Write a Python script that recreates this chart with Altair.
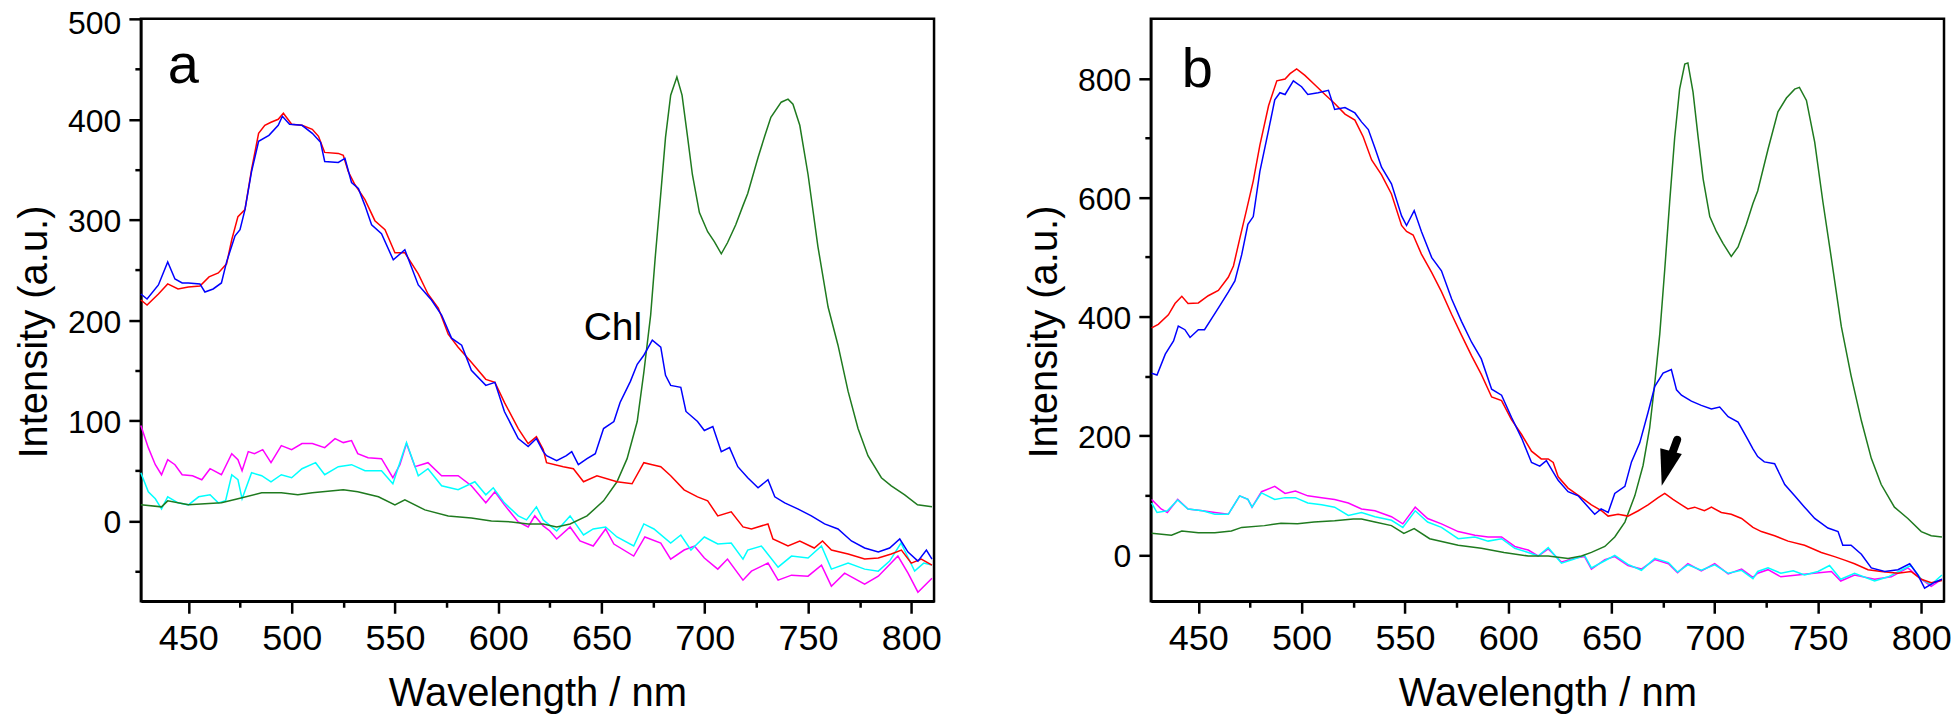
import altair as alt
import pandas as pd

# ---------------- data (wavelength nm, intensity a.u.) ----------------
A_RED = [(427,220),(430,215),(435.5,226),(440,236),(445,231),(450,233),(455.6,234),(460,243),(464.5,247),(468.5,256),(471,280),(474,303),(477.4,310),(480.6,350),(484,386),(487,394),(490,397),(493.5,400),(496,406),(500,395),(505,394),(510,390),(513,383),(516,367),(522.6,366),(525,364),(527.4,348),(530.6,335),(535.5,320),(540.3,299),(545.2,290),(550,267),(554.8,267),(561.3,246),(566,226),(571,212),(575.8,186),(580.6,173),(587,158),(594,141),(598.4,138),(603,118),(609.7,92),(614.5,77),(618.5,84),(621.8,71),(623.4,58),(631.5,54),(636.4,52),(641.3,39),(647.8,45),(657.5,39),(664.8,37),(670.5,58),(674.6,56),(678.7,54),(683.5,45),(690,31),(696.5,24),(701.4,20),(706.3,5),(712.8,9),(718.5,-6),(722.6,-8),(730.6,-3),(733,-18),(740.3,-25),(746,-20),(753,-27),(757,-20),(761.3,-29),(769.4,-33),(777.4,-38),(784,-37),(790.3,-33),(795.2,-29),(800,-42),(804.8,-38),(810,-44)]
A_BLUE = [(427,226),(430,221),(435.5,235),(440,258),(443.5,241),(447,237),(450,237),(455.6,236),(458,228),(462,231),(466,237),(468.5,258),(472.6,284),(475,290),(477.4,310),(480.6,348),(484,378),(489,384),(493.5,394),(495.5,403),(499,395),(505,394),(510,386),(514,377),(516,358),(522.6,357),(525.8,361),(529,337),(532.3,331),(535.5,314),(538.7,295),(543.5,286),(549.2,260),(554.8,270),(561.3,235),(567.7,220),(572.6,205),(577.4,182),(582.3,175),(587,150),(594,135),(598.4,138),(603,109),(609.7,82),(614.5,74),(618.5,82),(621.8,69),(623.4,65),(628.3,60),(633,65),(635.6,69),(638.8,56),(643,62),(647,67),(651,92),(656,99),(659,118),(664,139),(667.3,156),(670.5,165),(674.6,180),(678.7,173),(681,145),(683.5,135),(688.4,133),(690.9,109),(696.5,99),(699.8,90),(703.9,94),(708,69),(712,73),(716,54),(720.8,43),(725.8,33),(730.6,41),(733.9,24),(738.7,18),(745,12),(751.6,5),(758,-3),(764.5,-8),(771,-20),(777.4,-27),(784,-31),(789.5,-27),(794.4,-18),(798.4,-31),(803.2,-40),(807.3,-29),(810,-38)]
A_MAGENTA = [(427,95),(430.6,73),(434,56),(437,46),(440,61),(443.5,56),(447,46),(452,45),(456.5,41),(460.5,52),(466,46),(471,67),(474,61),(476,50),(479,69),(482,67),(486,71),(490,58),(495,75),(500,71),(505,77),(510,77),(516,73),(521,82),(525,78),(529,80),(532,67),(537,63),(543.5,62),(549,43),(552.4,56),(555.6,77),(559.7,54),(566,58),(572.6,45),(580.6,45),(587,35),(594,18),(598.4,29),(603,16),(609.7,-1),(614.5,-6),(617.7,5),(621.8,-5),(625,-10),(628.3,-18),(634.8,-6),(639.6,-20),(646,-25),(652,-8),(656,-23),(665.6,-35),(671,-16),(678.7,-22),(683.5,-38),(690,-29),(695,-25),(699.8,-37),(706.3,-48),(711,-38),(718.5,-59),(722.6,-50),(730.6,-42),(735.5,-59),(742,-54),(750,-55),(756.5,-44),(761.3,-65),(767.7,-52),(777.4,-63),(784,-55),(793.5,-35),(798.4,-52),(803.2,-71),(810,-57)]
A_CYAN = [(427,48),(430.6,29),(434,22),(437,12),(440,24),(445,18),(450,16),(455,24),(460.5,26),(464.5,18),(468,20),(471,46),(474,41),(476,22),(480.6,48),(485.5,45),(490,39),(495,46),(500,43),(505,52),(511.6,58),(516,46),(522.6,54),(529,56),(535.5,50),(543.5,50),(549,37),(555.6,78),(561.3,45),(566,52),(572.6,35),(580.6,31),(588.7,39),(594,26),(597.6,33),(603,18),(609.7,5),(613.7,1),(618.5,14),(621.8,1),(628.3,-10),(634.8,5),(641.3,-14),(646,-8),(652,-6),(657.5,-16),(665.6,-25),(670.5,-3),(675.4,-8),(683.5,-22),(688.4,-14),(693.3,-29),(699.8,-16),(706.3,-23),(712.8,-22),(718.5,-38),(720.8,-29),(727.4,-25),(735.5,-46),(742,-35),(750,-37),(756.5,-25),(761.3,-48),(769.4,-42),(777.4,-48),(784,-50),(789.5,-40),(795,-22),(801.6,-50),(806,-42),(810,-44)]
A_GREEN = [(427,16),(437,14),(440,20),(450,16),(466,18),(474,22),(485.5,28),(495,28),(503,26),(510,28),(525,31),(532,29),(542,24),(550,16),(554.8,21),(564.5,11),(575.8,5),(587,3),(596.7,0),(606.4,-1),(614.5,-3),(621.8,-3),(628.3,-6),(634.8,-3),(643,5),(651,20),(657.5,39),(662.4,62),(667.3,99),(670.5,148),(673.8,205),(676,262),(678.7,326),(681,382),(683.5,424),(686.5,442),(689,424),(691.7,382),(694,345),(697.4,307),(701.4,288),(704.7,278),(708,266),(711,277),(715,295),(718.5,314),(720.8,326),(725.8,362),(729,383),(732,402),(737,417),(740.3,420),(742.7,415),(746,394),(750,345),(754.8,273),(759.7,213),(764.5,175),(769.4,129),(774.2,92),(779,65),(785.5,43),(790.3,35),(796.8,26),(803,16),(810,14)]

B_RED = [(427.4,381),(430.6,387),(435.5,403),(438.7,422),(442,434),(445,422),(450,423),(454.8,435),(459.7,444),(464.5,466),(467,485),(470,530),(473.4,580),(476.6,628),(479.8,688),(484,754),(488,796),(492,799),(494.4,808),(497.6,816),(501.6,805),(506.5,789),(511.3,773),(516,758),(521,740),(525.8,730),(529.8,702),(533.9,663),(538.7,638),(543.5,606),(548.4,553),(550.8,543),(554,537),(558,505),(563,474),(567.7,442),(572.6,404),(577.4,369),(582.3,334),(587,303),(592,265),(596.8,259),(601.6,227),(606.5,202),(611.3,174),(616,161),(619.4,161),(621.8,155),(624.2,131),(629,112),(635.5,96),(640.3,84),(645.2,74),(648.4,65),(653.2,68),(658,65),(663,74),(667.7,84),(672.6,96),(675.8,103),(679.8,93),(683.9,84),(687,77),(690.3,80),(695,74),(698.4,80),(703.2,71),(708,68),(713,61),(718.5,46),(722.6,39),(729,32),(735.5,23),(743.5,16),(751.6,4),(758,-3),(762.9,-9),(767.7,-15),(774.2,-25),(780.6,-28),(788.7,-31),(795,-28),(800,-41),(804.8,-47),(810,-43)]
B_BLUE = [(427.4,305),(430,302),(434,337),(438,359),(440.3,384),(443.5,378),(446,365),(450,378),(453,378),(456.5,397),(460.5,419),(464.5,441),(467.7,460),(471,504),(474,555),(476.6,568),(479.8,644),(484,713),(487,764),(489.5,776),(492,773),(496,796),(500,786),(503,773),(508,776),(513,780),(516,748),(521,751),(525.8,742),(529,727),(532.3,714),(535.5,683),(538.7,651),(543.5,623),(548.4,569),(550.8,553),(554.5,578),(558,543),(563,499),(567.7,477),(572.6,430),(577.4,392),(582.3,357),(587,329),(592,278),(596.8,268),(601.6,231),(606.5,196),(611.3,155),(615.3,149),(618.5,158),(621.8,139),(624.2,125),(629,106),(633.9,99),(637,87),(641.9,68),(645,77),(648.4,71),(651.6,103),(656.5,115),(659.7,156),(663.7,188),(667.7,239),(671,283),(675,305),(679,311),(681.5,277),(683.9,268),(688.7,258),(693.5,251),(698.4,245),(702.4,248),(706.5,232),(711.3,223),(716,194),(718.5,178),(720.8,165),(724,156),(729,153),(733.9,118),(738.7,99),(743.5,80),(748.4,61),(754.8,45),(759.7,39),(762,16),(766,16),(771,1),(775.8,-22),(782.3,-28),(788.7,-25),(794.4,-15),(798.4,-34),(801.6,-56),(806.5,-46),(810,-41)]
B_MAGENTA = [(427.4,93),(432,77),(435,71),(440,93),(445,77),(452,74),(458,71),(464.5,68),(470,99),(474,93),(476,80),(480.6,106),(487,115),(492,103),(497,107),(503,99),(509.7,96),(516,93),(522.6,87),(529,77),(535.5,74),(543.5,64),(549,52),(555,80),(561,61),(567.7,52),(575.8,39),(583.9,33),(590.3,30),(596.8,30),(603.2,14),(609.7,8),(614.5,-2),(619.4,10),(625.8,-12),(632,-6),(637,-3),(640.3,-24),(646.8,-8),(651.6,-3),(658,-18),(664.5,-24),(671,-8),(677.6,-15),(682,-30),(687,-15),(693.5,-27),(700,-15),(706.5,-32),(713,-24),(718.5,-38),(720.8,-31),(725.8,-25),(732,-37),(740,-34),(748,-31),(756.5,-28),(761,-44),(767.7,-34),(777.4,-41),(785.5,-37),(793.5,-22),(800,-41),(804.8,-53),(810,-41)]
B_CYAN = [(427.4,87),(430,71),(435,74),(440,92),(445,77),(452,74),(458,68),(464.5,68),(470,99),(474,93),(476,80),(480.6,104),(487,93),(492,96),(497,96),(503,87),(509.7,84),(516,80),(522.6,66),(529,71),(535.5,64),(543.5,58),(549,46),(555,74),(561,55),(567.7,46),(575.8,27),(583.9,30),(590.3,23),(596.8,27),(603.2,11),(609.7,4),(614.5,-2),(619.4,12),(625.8,-14),(632,-7),(637,-1),(640.3,-22),(646.8,-10),(651.6,-1),(658,-16),(664.5,-26),(671,-6),(677.6,-13),(682,-29),(687,-17),(693.5,-26),(700,-17),(706.5,-31),(713,-26),(718.5,-40),(720.8,-28),(725.8,-22),(732,-31),(738,-27),(743.5,-34),(750,-28),(755.6,-18),(761,-41),(767.7,-31),(777.4,-44),(784,-37),(789,-28),(795,-18),(800,-41),(804.8,-50),(810,-34)]
B_GREEN = [(427.4,36),(437,33),(442,40),(450,37),(458,37),(466,40),(471,46),(482,49),(490,53),(498,52),(506,55),(516,57),(525,60),(529,60),(535.5,55),(543.5,49),(549.5,36),(554.5,44),(562,27),(575.8,16),(587,11),(598,4),(609.7,-2),(619.4,-2),(629,-6),(635.5,-2),(640.3,4),(646.8,14),(651.6,30),(656.5,55),(661.3,99),(665.3,150),(668.5,213),(671,289),(673.4,371),(675.8,479),(678.2,593),(680.6,700),(683,782),(685.5,824),(687,826),(689.5,777),(692,700),(694.4,631),(697.6,568),(700.8,543),(704,523),(708,501),(711.3,517),(715.3,555),(718.5,590),(720.8,611),(725.8,681),(730.6,744),(734.7,767),(738.7,782),(741,785),(744.4,763),(748.4,693),(752.4,592),(756.5,497),(761.3,383),(766,301),(771,225),(775.8,162),(780.6,118),(787,80),(793.5,61),(800,39),(804.8,32),(810,30)]

SERIES_NAMES = ["magenta", "cyan", "green", "red", "blue"]
SERIES_COLORS = ["#ff00ff", "#00ffff", "#1f7a1f", "#ff0000", "#0000ff"]

X_DOMAIN = [427, 811]
A_Y_DOMAIN = [-80, 500]
B_Y_DOMAIN = [-78, 900]
X_TICKS = [450, 475, 500, 525, 550, 575, 600, 625, 650, 675, 700, 725, 750, 775, 800]
A_Y_TICKS = [-50, 0, 50, 100, 150, 200, 250, 300, 350, 400, 450, 500]
B_Y_TICKS = [0, 100, 200, 300, 400, 500, 600, 700, 800]

# annotations (data coordinates)
A_LETTER = [{"wl": 440.0, "val": 436, "t": "a"}]
B_LETTER = [{"wl": 442.0, "val": 786, "t": "b"}]
CHL_LABEL = [{"wl": 641.4, "val": 180, "t": "Chl"}]
ARROW_SHAFT = [{"wl": 681.8, "val": 193, "wl2": 678.3, "val2": 160}]
ARROW_HEAD = [{"wl": 676.6, "val": 145}]

FONT = "Liberation Sans"
W, H = 794, 583


def frame(series_lists):
    rows = []
    for name, pairs in zip(SERIES_NAMES, series_lists):
        for w, v in pairs:
            rows.append({"series": name, "wl": w, "val": v})
    return pd.DataFrame(rows)


def x_enc():
    return alt.X("wl:Q", scale=alt.Scale(domain=X_DOMAIN, nice=False, zero=False),
                 axis=alt.Axis(values=X_TICKS, title="Wavelength / nm",
                               labelExpr="datum.value % 50 == 0 ? datum.label : ''",
                               tickSize={"condition": {"test": "datum.value % 50 == 0", "value": 12}, "value": 6},
                               labelFontSize=36, labelPadding=8, titleFontSize=40, titlePadding=17,
                               labelOverlap=False))


def y_enc(domain, ticks, major, top):
    return alt.Y("val:Q", scale=alt.Scale(domain=domain, nice=False, zero=False),
                 axis=alt.Axis(values=ticks, title="Intensity (a.u.)",
                               labelExpr=f"datum.value % {major} == 0 ? datum.label : ''",
                               tickSize={"condition": {"test": f"datum.value % {major} == 0", "value": 12}, "value": 6},
                               labelOffset={"condition": {"test": f"datum.value == {top}", "value": 5}, "value": 2},
                               labelFontSize=32, labelPadding=8, titleFontSize=40, titlePadding=12.6,
                               titleY=313, labelOverlap=False))


def panel(series_lists, ydom, yticks, major, letter, extra):
    xe = x_enc()
    ye = y_enc(ydom, yticks, major, ydom[1])
    lines = alt.Chart(frame(series_lists)).mark_line(strokeWidth=1.5).encode(
        x=xe, y=ye,
        color=alt.Color("series:N", scale=alt.Scale(domain=SERIES_NAMES, range=SERIES_COLORS), legend=None),
        detail="series:N",
    )
    let = alt.Chart(pd.DataFrame(letter)).mark_text(
        font=FONT, fontSize=56, align="left", baseline="alphabetic", color="black"
    ).encode(x=xe, y=ye, text="t:N")
    layers = [lines, let] + extra(xe, ye)
    return alt.layer(*layers).properties(width=W, height=H)


def extra_a(xe, ye):
    chl = alt.Chart(pd.DataFrame(CHL_LABEL)).mark_text(
        font=FONT, fontSize=39, align="left", baseline="alphabetic", color="black"
    ).encode(x=xe, y=ye, text="t:N")
    return [chl]


def extra_b(xe, ye):
    shaft = alt.Chart(pd.DataFrame(ARROW_SHAFT)).mark_rule(
        strokeWidth=8, strokeCap="round", color="black"
    ).encode(x=xe, y=ye, x2="wl2:Q", y2="val2:Q")
    head = alt.Chart(pd.DataFrame(ARROW_HEAD)).mark_point(
        shape="M-0.62,-1L0.62,-1L0,1Z", filled=True, size=1300, angle=15,
        color="black", opacity=1, strokeWidth=0
    ).encode(x=xe, y=ye)
    return [shaft, head]


pa = panel([A_MAGENTA, A_CYAN, A_GREEN, A_RED, A_BLUE], A_Y_DOMAIN, A_Y_TICKS, 100, A_LETTER, extra_a)
pb = panel([B_MAGENTA, B_CYAN, B_GREEN, B_RED, B_BLUE], B_Y_DOMAIN, B_Y_TICKS, 200, B_LETTER, extra_b)

chart = alt.hconcat(pa, pb, spacing=80).properties(
    padding={"left": 5, "top": -2.5, "right": -1, "bottom": 0}
).configure_view(stroke="black", strokeWidth=2.5).configure_axis(
    domainColor="black", domainWidth=2.5, tickColor="black", tickWidth=2.5,
    labelColor="black", labelFont=FONT, titleFont=FONT,
    titleFontWeight="normal", titleColor="black", grid=False
)

chart.save("out.html", embed_options={"renderer": "svg", "actions": False})
